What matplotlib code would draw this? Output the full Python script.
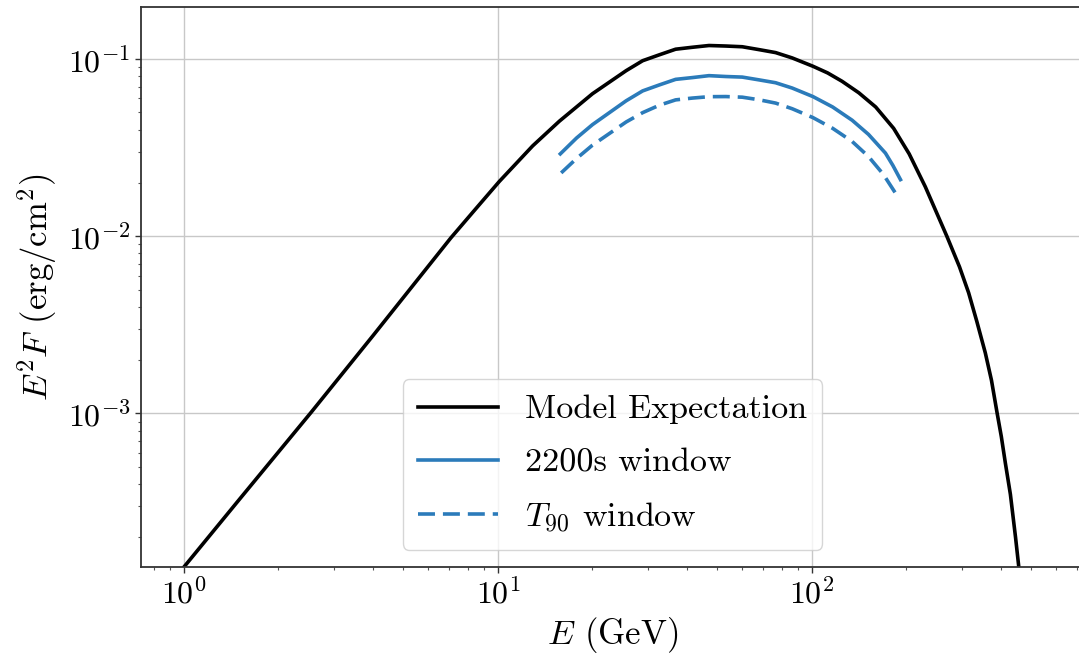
import matplotlib
matplotlib.use("Agg")
import matplotlib.pyplot as plt

plt.rcParams['font.family'] = 'serif'
plt.rcParams['font.serif'] = ['cmr10', 'DejaVu Serif']
plt.rcParams['mathtext.fontset'] = 'cm'
plt.rcParams['axes.formatter.use_mathtext'] = True
plt.rcParams['axes.unicode_minus'] = False

# model expectation
model_E = [1.0, 1.507, 2.547, 4.0, 7.08, 8.4, 10.1, 12.9, 15.7, 20.0, 25.6, 28.9,
           32.7, 36.8, 41.6, 47.0, 53.2, 60.0, 67.8, 76.6, 86.5, 100.7, 112.2,
           124.7, 141.0, 159.6, 182.0, 204.0, 229.6, 269.0, 295.0, 315.5, 335.0,
           356.5, 373.0, 389.0, 401.0, 413.0, 428.5, 445.0, 456.0]
model_F = [1.36e-4, 3.3e-4, 1.02e-3, 2.75e-3, 9.8e-3, 0.01396, 0.0204, 0.0324,
           0.0447, 0.0638, 0.0861, 0.098, 0.1059, 0.1138, 0.1167, 0.1194, 0.1186,
           0.1175, 0.1132, 0.1089, 0.1016, 0.0912, 0.0836, 0.0750, 0.0646, 0.0537,
           0.0407, 0.0292, 0.01905, 0.0100, 0.00673, 0.0048, 0.00331, 0.0022,
           0.00154, 0.0010, 7.4e-4, 5.25e-4, 3.5e-4, 2.0e-4, 1.35e-4]

# 2200 s window
win_E = [15.8, 17.8, 20.0, 25.6, 28.9, 32.7, 36.8, 41.6, 47.0, 53.2, 60.0, 67.8,
         76.6, 86.5, 100.7, 116.4, 134.3, 151.4, 171.4, 181.1, 191.4]
win_F = [0.0292, 0.0359, 0.0427, 0.0582, 0.0662, 0.0716, 0.0769, 0.0787, 0.0807,
         0.0798, 0.0792, 0.0764, 0.0736, 0.0687, 0.0615, 0.0537, 0.0452, 0.0376,
         0.0295, 0.0251, 0.0209]

# T90 window
t90_E = [15.9, 17.8, 20.0, 25.6, 28.9, 32.7, 36.8, 41.6, 47.0, 53.2, 60.0, 67.8,
         76.6, 86.5, 100.7, 116.4, 134.3, 151.4, 168.7, 186.6]
t90_F = [0.0228, 0.0275, 0.0327, 0.0442, 0.0499, 0.0550, 0.0589, 0.0603, 0.0614,
         0.0615, 0.0610, 0.0590, 0.0565, 0.0525, 0.0468, 0.0407, 0.0343, 0.0282,
         0.0224, 0.0170]

blue = '#2b7bba'

fig = plt.figure(figsize=(10.79, 6.59), dpi=100)
ax = fig.add_axes([0.1307, 0.1396, 0.8739, 0.8498])

ax.plot(model_E, model_F, color='black', lw=2.6, label='Model Expectation')
ax.plot(win_E, win_F, color=blue, lw=2.6, label='2200s window')
ax.plot(t90_E, t90_F, color=blue, lw=2.6, ls=(0, (4.7, 2.2)), label=r'$T_{90}$ window')

ax.set_xscale('log')
ax.set_yscale('log')
ax.set_xlim(0.73, 735)
ax.set_ylim(1.36e-4, 0.197)

ax.grid(True, which='major', color='#c8c8c8', lw=1.0)
ax.set_axisbelow(True)
for s in ax.spines.values():
    s.set_linewidth(1.3)
    s.set_color('#333333')

ax.tick_params(which='major', labelsize=23, length=4, width=1.0, color='#333333')
ax.tick_params(which='minor', length=2.5, width=0.8, color='#555555')

ax.set_xlabel(r'$E$ (GeV)', fontsize=25, labelpad=4)
ax.set_ylabel(r'$E^2F$ (erg/cm$^2$)', fontsize=25, labelpad=6)

ax.legend(loc='lower center', fontsize=24.5, handlelength=2.35, borderpad=0.45,
          labelspacing=0.68, framealpha=0.8)

fig.savefig('out.png', dpi=100)
